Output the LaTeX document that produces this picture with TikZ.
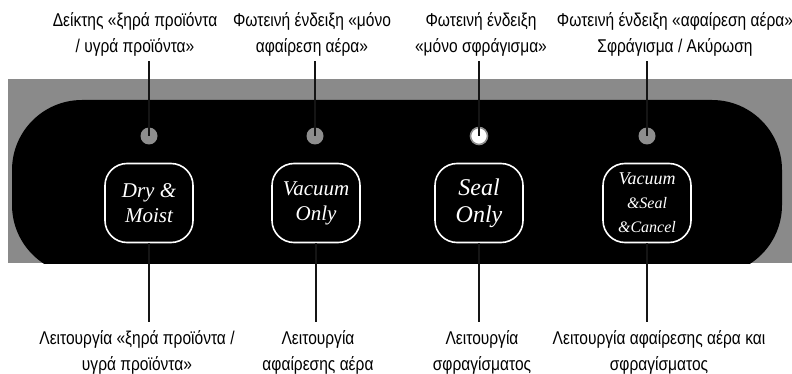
\documentclass[tikz,border=0pt]{standalone}
\usepackage{fontspec}
\newfontfamily\lblfont[FakeStretch=0.84]{Liberation Sans}
\newfontfamily\keyfont{Liberation Serif}
\definecolor{bandgray}{HTML}{8A8A8A}
\definecolor{ledgray}{HTML}{8E8E8E}
\definecolor{leader}{HTML}{151515}
\tikzset{
  callout/.style={font=\lblfont\fontsize{18.5}{26}\selectfont, align=center, inner sep=0pt, text=black},
  led/.style={circle, minimum size=17pt, inner sep=0pt, fill=ledgray},
  ledon/.style={led, fill=white, draw=ledgray, line width=1.6pt},
  keycap/.style={rectangle, rounded corners=22pt, minimum width=88pt, minimum height=79pt,
    fill=black, draw=white, line width=1.6pt, text=white, align=center, inner sep=0pt,
    font=\keyfont\itshape\fontsize{21}{25}\selectfont},
  leadline/.style={draw=leader, line width=2pt}
}
\begin{document}
\begin{tikzpicture}[x=1pt, y=-1pt]
\useasboundingbox (0,0) rectangle (792,374);
% control panel: grey band with the black rounded face
\fill[bandgray] (8,79) rectangle (792,263);
\begin{scope}
  \clip (8,79) rectangle (792,263);
  \fill[black, rounded corners=70pt] (12,100) rectangle (782,275);
\end{scope}
% indicator lamps
\node[led]   (led1) at (149,136) {};
\node[led]   (led2) at (315,136) {};
\node[ledon] (led3) at (479,136) {};
\node[led]   (led4) at (647,136) {};
% keys
\node[keycap] (key1) at (149,203) {Dry \&\\Moist};
\node[keycap] (key2) at (316,203) {Vacuum\\Only};
\node[keycap, font=\keyfont\itshape\fontsize{24}{27}\selectfont] (key3) at (479,203) {Seal\\Only};
\node[keycap] (key4) at (647,203) {{\fontsize{18}{18}\selectfont Vacuum}\\[-1pt]{\fontsize{16}{18}\selectfont \&Seal}\\[-1pt]{\fontsize{16}{18}\selectfont \&Cancel}};
% lamp captions
\node[callout, anchor=north] (top1) at (135,12) {Δείκτης «ξηρά προϊόντα\\/ υγρά προϊόντα»};
\node[callout, anchor=north] (top2) at (312,12) {Φωτεινή ένδειξη «μόνο\\αφαίρεση αέρα»};
\node[callout, anchor=north] (top3) at (481,12) {Φωτεινή ένδειξη\\«μόνο σφράγισμα»};
\node[callout, anchor=north] (top4) at (675,12) {Φωτεινή ένδειξη «αφαίρεση αέρα»\\Σφράγισμα / Ακύρωση};
% key captions
\node[callout, anchor=north] (bot1) at (137,330) {Λειτουργία «ξηρά προϊόντα /\\υγρά προϊόντα»};
\node[callout, anchor=north] (bot2) at (318,330) {Λειτουργία\\αφαίρεσης αέρα};
\node[callout, anchor=north] (bot3) at (482,330) {Λειτουργία\\σφραγίσματος};
\node[callout, anchor=north] (bot4) at (659,330) {Λειτουργία αφαίρεσης αέρα και\\σφραγίσματος};
% leader lines
\foreach \i in {1,2,3,4} {
  \draw[leadline] (led\i.center) -- ([yshift=-5pt]top\i.south -| led\i);
  \draw[leadline] (key\i.south) -- ([yshift=8pt]bot\i.north -| key\i);
}
\end{tikzpicture}
\end{document}
